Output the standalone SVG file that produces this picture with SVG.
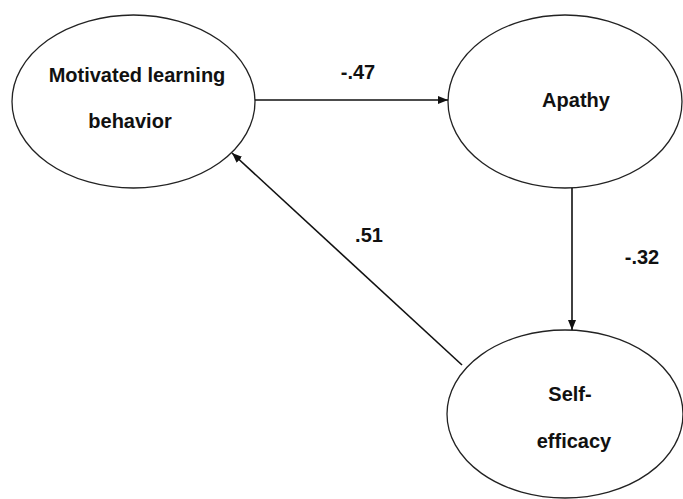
<svg xmlns="http://www.w3.org/2000/svg" width="683" height="499" viewBox="0 0 683 499">
  <defs>
    <marker id="arr" viewBox="0 0 10 8" refX="10" refY="4" markerWidth="10" markerHeight="8" markerUnits="userSpaceOnUse" orient="auto">
      <path d="M0,0 L10,4 L0,8 Z" fill="#111"/>
    </marker>
  </defs>
  <style>
    .node ellipse { fill: #fff; stroke: #222; stroke-width: 1.3; }
    .lbl { font-family: "Liberation Sans", Arial, sans-serif; font-weight: bold; font-size: 20px; fill: #111; text-anchor: middle; }
    .edge { stroke: #111; stroke-width: 1.6; fill: none; marker-end: url(#arr); }
  </style>
  <rect width="683" height="499" fill="#fff"/>
  <g id="node-motivated" class="node">
    <ellipse cx="133.5" cy="101.5" rx="121.5" ry="86.5"/>
    <text class="lbl" x="137" y="82">Motivated learning</text>
    <text class="lbl" x="130" y="128">behavior</text>
  </g>
  <g id="node-apathy" class="node">
    <ellipse cx="565" cy="101.5" rx="117" ry="86.5"/>
    <text class="lbl" x="576" y="107">Apathy</text>
  </g>
  <g id="node-selfefficacy" class="node">
    <ellipse cx="565" cy="414" rx="118" ry="84"/>
    <text class="lbl" x="570" y="401">Self-</text>
    <text class="lbl" x="574" y="448">efficacy</text>
  </g>
  <g id="connectors">
    <line class="edge" x1="255" y1="100" x2="448" y2="100"/>
    <line class="edge" x1="572" y1="188" x2="572" y2="330"/>
    <line class="edge" x1="462" y1="365" x2="232" y2="153"/>
    <text class="lbl" x="358" y="79">-.47</text>
    <text class="lbl" x="642" y="264">-.32</text>
    <text class="lbl" x="369" y="242">.51</text>
  </g>
</svg>
